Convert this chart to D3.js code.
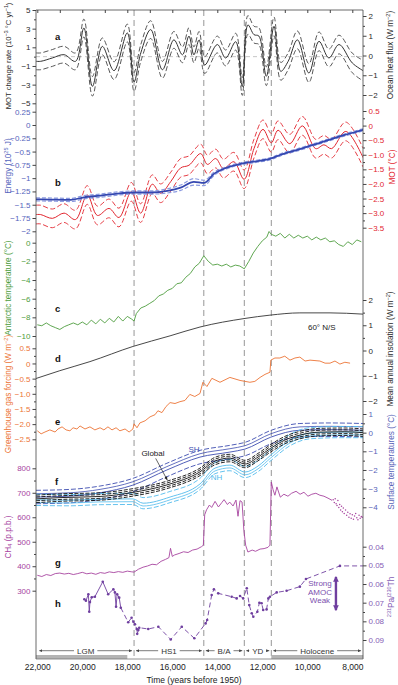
<!DOCTYPE html>
<html>
<head>
<meta charset="utf-8">
<script src="https://cdn.jsdelivr.net/npm/d3@7"></script>
<style>
  body { margin: 0; background: #fff; }
  svg text { font-family: "Liberation Sans", Arial, Helvetica, sans-serif; }
</style>
</head>
<body>
<script>
// all ages in years before 1950

// a: MOT change rate (1e-3 degC/yr) with its uncertainty
var aYears = [22050, 21850, 21330, 20810, 20300, 19930, 19550, 19110, 18590, 18000, 17700, 17400, 16960, 16440, 15930, 15550, 15260, 15040, 14810, 14560, 14000, 13630, 13180, 12890, 12640, 12370, 12150, 11820, 11480, 11180, 10850, 10440, 9930, 9480, 9040, 8590, 8000, 7520];
var aRate = [-0.5, -0.5, -0.14, 0.21, -0.5, 3.07, -3.18, 1.1, -1.5, 2.54, -2.7, 0.4, 2.9, -1.4, 1.8, 0.2, 2.2, 0.2, 1.8, -0.9, 1.3, -0.14, 1.6, -3.2, 3.4, 2.36, 2.2, -2.1, 3.25, -1.57, -0.5, 1.8, -1.75, 1.64, -0.14, 1.3, -0.68, -1.5];
var aErr = [0.9, 0.9, 0.9, 0.9, 0.9, 0.95, 1.05, 0.9, 0.95, 0.95, 1.0, 0.9, 0.95, 0.9, 0.9, 0.85, 0.9, 0.85, 0.9, 0.9, 0.9, 0.85, 0.9, 0.95, 1.0, 0.9, 0.9, 1.0, 1.0, 0.95, 0.9, 0.95, 1.0, 1.0, 0.95, 1.0, 1.05, 1.1];

// b: mean ocean temperature (degC) and ocean energy (1e25 J)
var motYears = [22060, 21850, 21330, 20810, 20300, 19780, 19330, 18810, 18370, 17820, 17410, 16890, 16520, 16070, 15630, 15260, 14740, 14440, 14070, 13730, 13260, 12810, 12370, 11970, 11600, 11300, 10780, 10220, 9630, 9260, 8920, 8290, 7520];
var mot = [-3.05, -3.05, -3.18, -3.0, -3.22, -2.38, -3.08, -2.84, -3.15, -2.27, -3.0, -2.01, -2.32, -1.92, -1.45, -1.36, -0.96, -1.33, -1.13, -1.47, -1.24, -1.84, -0.79, -0.13, -0.59, -0.16, -0.62, -0.01, -0.79, -0.66, -0.79, -0.2, -1.1];
var motErr = 0.32;
var enYears = [22060, 21850, 20520, 19930, 19190, 18440, 17700, 16960, 16220, 15630, 15040, 14590, 14150, 13560, 12960, 12370, 11600, 11190, 10300, 9410, 8520, 7520];
var energy = [-1.40, -1.40, -1.41, -1.36, -1.33, -1.29, -1.27, -1.27, -1.24, -1.18, -1.07, -1.09, -0.92, -0.80, -0.73, -0.69, -0.63, -0.56, -0.45, -0.33, -0.21, -0.09];
var enErr = [0.03, 0.03, 0.03, 0.03, 0.03, 0.03, 0.03, 0.03, 0.04, 0.05, 0.06, 0.05, 0.03, 0.02, 0.02, 0.02, 0.02, 0.02, 0.02, 0.02, 0.02, 0.02];

// c: Antarctic temperature (degC)
var antYears = [22000, 21800, 21600, 21400, 21200, 21000, 20800, 20600, 20400, 20200, 20000, 19800, 19600, 19400, 19200, 19000, 18800, 18600, 18400, 18200, 18000, 17800, 17700, 17600, 17400, 17200, 17000, 16800, 16600, 16400, 16200, 16000, 15800, 15600, 15400, 15200, 15000, 14800, 14600, 14400, 14200, 14000, 13800, 13600, 13400, 13200, 13000, 12800, 12600, 12400, 12200, 12000, 11800, 11700, 11600, 11400, 11200, 11000, 10800, 10600, 10400, 10200, 10000, 9800, 9600, 9400, 9200, 9000, 8800, 8600, 8400, 8200, 8000, 7800, 7600];
var antTemp = [-8.8, -8.9, -8.6, -8.9, -9.1, -9.3, -9.0, -8.8, -8.6, -8.8, -8.5, -8.8, -8.3, -8.7, -8.2, -8.6, -8.1, -8.5, -7.9, -8.4, -7.9, -8.2, -8.4, -7.6, -7.0, -6.8, -6.5, -6.2, -5.7, -5.5, -5.1, -4.9, -4.4, -4.3, -3.7, -3.3, -2.6, -2.2, -1.4, -2.0, -2.4, -2.3, -2.5, -2.3, -2.6, -2.4, -2.5, -2.8, -2.0, -1.1, -0.4, 0.2, 0.6, 1.2, 0.9, 0.7, 1.0, 0.5, 0.9, 0.5, 0.8, 0.5, 0.7, 0.3, 0.6, 0.3, 0.5, 0.1, 0.2, -0.2, -0.4, 0.1, -0.2, 0.3, 0.1];

// d: mean annual insolation 60 N/S (W m-2)
var insYears = [22060, 21000, 19660, 17750, 16100, 14770, 12770, 11660, 10330, 8990, 7520];
var insol = [-1.11, -0.8, -0.44, 0.16, 0.58, 0.93, 1.27, 1.4, 1.49, 1.49, 1.44];

// e: greenhouse gas forcing (W m-2)
var ghgYears = [22000, 21830, 21660, 21440, 21210, 21080, 20900, 20720, 20550, 20410, 20240, 20100, 19880, 19660, 19440, 19210, 19040, 18860, 18680, 18500, 18330, 18100, 17920, 17750, 17700, 17570, 17440, 17210, 16990, 16770, 16640, 16460, 16280, 16100, 15880, 15660, 15440, 15220, 15000, 14770, 14640, 14460, 14240, 13880, 13440, 12990, 12550, 12330, 12100, 11880, 11660, 11620, 11440, 11220, 11000, 10770, 10550, 10330, 10100, 9880, 9440, 9210, 8990, 8770, 8550, 8330, 8100];
var ghg = [-2.22, -2.32, -2.26, -2.19, -2.26, -2.16, -2.09, -2.19, -2.22, -2.12, -2.16, -2.06, -2.16, -2.09, -2.19, -2.12, -2.19, -2.09, -2.19, -2.12, -2.22, -2.16, -2.26, -2.16, -1.99, -2.12, -1.96, -1.89, -1.76, -1.69, -1.56, -1.62, -1.42, -1.29, -1.32, -1.26, -1.22, -1.02, -1.09, -0.99, -0.62, -0.76, -0.49, -0.62, -0.46, -0.56, -0.62, -0.59, -0.46, -0.36, -0.29, 0.11, 0.18, 0.18, 0.24, 0.11, 0.18, 0.21, 0.08, 0.11, 0.08, 0.01, 0.01, 0.08, -0.02, 0.04, 0.01];

// f: surface temperature stacks (degC)
var globYears = [22060, 20990, 19210, 17750, 16240, 14770, 14100, 13440, 12770, 12190, 11620, 11000, 10330, 9440, 8330, 7520];
var globT = [-3.55, -3.48, -3.42, -3.2, -2.8, -2.1, -1.52, -1.36, -1.68, -1.31, -0.83, -0.4, -0.13, 0.03, 0.05, 0.0];
var shYears = [22060, 20540, 19210, 17750, 16240, 14770, 13440, 12770, 11620, 10330, 8990, 7520];
var shT = [-3.45, -3.4, -3.22, -2.81, -2.0, -1.31, -1.04, -0.88, -0.24, 0.13, 0.16, 0.13];
var nhYears = [22060, 20540, 19210, 17750, 17300, 16100, 14770, 14100, 13440, 12770, 12190, 11620, 10770, 9880, 8550, 7520];
var nhT = [-3.6, -3.62, -3.56, -3.55, -3.78, -3.45, -2.75, -1.9, -1.74, -2.11, -1.79, -1.2, -0.4, -0.03, 0.03, 0.03];
var globErr = [0.1, 0.2], shErr = 0.36, nhErr = 0.3;

// g: CH4 (p.p.b.)
var ch4Years = [22000, 21800, 21600, 21400, 21200, 21000, 20800, 20600, 20400, 20200, 20000, 19800, 19600, 19400, 19200, 19000, 18800, 18600, 18400, 18200, 18000, 17800, 17700, 17500, 17300, 17100, 16900, 16700, 16500, 16300, 16150, 16080, 16000, 15900, 15700, 15500, 15300, 15100, 14900, 14700, 14620, 14560, 14480, 14350, 14250, 14100, 13950, 13800, 13700, 13550, 13450, 13300, 13170, 13080, 12990, 12900, 12820, 12740, 12640, 12450, 12300, 12100, 11920, 11750, 11660, 11600, 11520, 11440, 11350, 11200, 11040, 10860, 10700, 10500, 10320, 10150, 9970, 9800, 9620, 9440, 9260, 9080, 8900];
var ch4 = [363, 358, 366, 362, 370, 372, 368, 371, 366, 370, 375, 369, 372, 367, 374, 371, 377, 374, 378, 375, 380, 377, 376, 388, 396, 401, 408, 406, 420, 428, 435, 473, 440, 446, 452, 459, 456, 466, 470, 480, 486, 610, 630, 650, 640, 665, 642, 660, 672, 652, 662, 646, 670, 604, 668, 662, 547, 486, 458, 466, 461, 470, 472, 477, 486, 744, 712, 690, 724, 682, 694, 686, 698, 706, 694, 702, 686, 694, 698, 690, 686, 678, 669];
var ch4DotYears = [8850, 8800, 8760, 8720, 8680, 8640, 8600, 8560, 8520, 8480, 8440, 8400, 8360, 8300, 8250, 8200, 8150, 8100, 8050, 8000, 7950, 7900, 7850, 7800, 7750, 7700, 7650, 7600, 7560];
var ch4Dots = [672, 660, 676, 655, 648, 668, 640, 652, 630, 645, 622, 638, 615, 630, 608, 620, 600, 614, 596, 610, 592, 605, 615, 598, 590, 608, 596, 603, 600];

// h: 231Pa/230Th
var paYears = [19910, 19840, 19730, 19690, 19660, 19580, 19440, 19090, 18850, 18620, 18550, 18500, 18450, 18360, 18290, 17960, 17810, 17730, 17660, 17580, 17560, 17510, 17470, 17070, 16620, 16070, 15580, 15020, 14520, 14450, 14250, 14150, 13960, 13360, 13140, 12990, 12850, 12690, 12580, 12470, 12400, 12220, 12130, 12030, 11960, 11810, 11730, 11660, 11360, 10920, 10330, 10060, 8550, 7520];
var paTh = [0.0682, 0.0690, 0.0655, 0.0749, 0.0697, 0.0671, 0.0668, 0.0588, 0.0655, 0.0628, 0.0645, 0.0722, 0.0655, 0.0673, 0.0727, 0.0805, 0.0781, 0.0802, 0.0816, 0.0841, 0.0867, 0.0847, 0.0834, 0.0841, 0.0829, 0.0897, 0.0829, 0.0891, 0.0811, 0.0793, 0.0659, 0.0628, 0.0650, 0.0668, 0.0677, 0.0664, 0.0677, 0.0623, 0.0713, 0.0757, 0.0775, 0.0749, 0.0700, 0.0703, 0.0739, 0.0736, 0.0677, 0.0668, 0.0645, 0.0636, 0.0614, 0.0573, 0.0503, 0.0503];

// event boundaries and period names
var eventYears = [17700, 14600, 12800, 11600];
var periodNames = ['LGM', 'HS1', 'B/A', 'YD', 'Holocene'];
var periodFrom = [22000, 17700, 14600, 12800, 11600];
var periodTo = [17700, 14600, 12800, 11600, 7520];
var barFrom = [22060, 11600], barTo = [18000, 7520];
var timeTicks = [22000, 20000, 18000, 16000, 14000, 12000, 10000, 8000];

var W = 398, H = 685;
var L = 36, R = 363, T = 10, B = 659;

var svg = d3.select('body').append('svg').attr('width', W).attr('height', H);

var defs = svg.append('defs');
defs.append('clipPath').attr('id', 'plot')
  .append('rect').attr('x', L).attr('y', T).attr('width', R - L).attr('height', B - T);
defs.append('marker').attr('id', 'arr')
  .attr('viewBox', '0 0 6 6').attr('refX', 6).attr('refY', 3)
  .attr('markerWidth', 4.5).attr('markerHeight', 4.5).attr('orient', 'auto-start-reverse')
  .append('path').attr('d', 'M0,0L6,3L0,6z').attr('fill', '#444');
defs.append('marker').attr('id', 'arrP')
  .attr('viewBox', '0 0 6 6').attr('refX', 5).attr('refY', 3)
  .attr('markerWidth', 2.4).attr('markerHeight', 2.4).attr('orient', 'auto-start-reverse')
  .append('path').attr('d', 'M0,0L6,3L0,6z').attr('fill', '#6f3f9f');
defs.append('marker').attr('id', 'arrK')
  .attr('viewBox', '0 0 6 6').attr('refX', 6).attr('refY', 3)
  .attr('markerWidth', 5).attr('markerHeight', 5).attr('orient', 'auto')
  .append('path').attr('d', 'M0,0L6,3L0,6z').attr('fill', '#222');

// scales
var x = d3.scaleLinear().domain([22000, 8000]).range([37.3, 352.3]);
var yA = d3.scaleLinear().domain([5, -5]).range([10, 103.3]);
var yFlux = d3.scaleLinear().domain([2, -2]).range([16, 95]);
var yEn = d3.scaleLinear().domain([0.25, -2]).range([111.7, 231.3]);
var yMot = d3.scaleLinear().domain([0.5, -3.5]).range([111, 227.7]);
var yAnt = d3.scaleLinear().domain([0, -10]).range([242.7, 336]);
var yIns = d3.scaleLinear().domain([2, -2]).range([300, 401]);
var yGhg = d3.scaleLinear().domain([0.5, -2.5]).range([348.3, 439.3]);
var ySurf = d3.scaleLinear().domain([1, -4]).range([414, 507.3]);
var yCh4 = d3.scaleLinear().domain([800, 300]).range([468.3, 590.7]);
var yPa = d3.scaleLinear().domain([0.04, 0.09]).range([546.7, 640]);

var cBlack = '#2a2a2a', cBlue = '#5565bd', cRed = '#e2262f', cGreen = '#4e9d3e',
    cOrange = '#ec7436', cSurf = '#5864b8', cSH = '#3d4db0', cNH = '#52bbec',
    cCh4 = '#a7449f', cPa = '#6f3f9f';

// event lines
svg.append('g').selectAll('line').data(eventYears).enter().append('line')
  .attr('x1', d => x(d)).attr('x2', d => x(d))
  .attr('y1', T).attr('y2', B - 2)
  .attr('stroke', '#8a8a8a').attr('stroke-width', 0.9).attr('stroke-dasharray', '6,4');

// gray period bars on the time axis
svg.append('g').selectAll('rect').data(barFrom).enter().append('rect')
  .attr('x', d => x(d)).attr('width', (d, i) => x(barTo[i]) - x(d))
  .attr('y', B - 4).attr('height', 4).attr('fill', '#b4b4b4');

var plot = svg.append('g').attr('clip-path', 'url(#plot)');

function shift(vals, err, sign) {
  return vals.map(function (v, i) { return v + sign * (Array.isArray(err) ? err[i] : err); });
}

function trace(years, vals, y, color, opt) {
  opt = opt || {};
  var line = d3.line()
    .x(function (d, i) { return x(years[i]); })
    .y(function (d) { return y(d); })
    .curve(opt.curve || d3.curveLinear);
  plot.append('path').datum(vals)
    .attr('d', line)
    .attr('fill', 'none')
    .attr('stroke', color)
    .attr('stroke-width', opt.width || 1)
    .attr('stroke-dasharray', opt.dash || null)
    .attr('stroke-linejoin', 'round');
}

// a
plot.append('line').attr('x1', L).attr('x2', R).attr('y1', yA(0)).attr('y2', yA(0))
  .attr('stroke', '#b8b8b8').attr('stroke-dasharray', '4,3').attr('stroke-width', 0.8);
var smooth = d3.curveCatmullRom;
trace(aYears, shift(aRate, aErr, 1), yA, '#444', { curve: smooth, dash: '5,2.5', width: 0.9 });
trace(aYears, shift(aRate, aErr, -1), yA, '#444', { curve: smooth, dash: '5,2.5', width: 0.9 });
trace(aYears, aRate, yA, '#333', { curve: smooth, width: 1 });

// b
trace(motYears, shift(mot, motErr, 1), yMot, cRed, { curve: smooth, dash: '5,2.5', width: 0.9 });
trace(motYears, shift(mot, motErr, -1), yMot, cRed, { curve: smooth, dash: '5,2.5', width: 0.9 });
trace(motYears, mot, yMot, cRed, { curve: smooth, width: 1 });
trace(enYears, shift(energy, enErr, 1), yEn, '#8c9be0', { curve: d3.curveMonotoneX, dash: '4,2', width: 1.2 });
trace(enYears, shift(energy, enErr, -1), yEn, '#8c9be0', { curve: d3.curveMonotoneX, dash: '4,2', width: 1.2 });
trace(enYears, energy, yEn, '#3447b0', { curve: d3.curveMonotoneX, width: 1.8 });

// c, d, e
trace(antYears, antTemp, yAnt, cGreen, { width: 0.9 });
trace(insYears, insol, yIns, '#333', { curve: d3.curveMonotoneX, width: 0.9 });
trace(ghgYears, ghg, yGhg, cOrange, { width: 0.9 });

// f
var mono = d3.curveMonotoneX;
trace(shYears, shift(shT, shErr, 1), ySurf, cSH, { curve: mono, dash: '5,2', width: 0.9 });
trace(shYears, shift(shT, shErr, -1), ySurf, cSH, { curve: mono, dash: '5,2', width: 0.9 });
trace(shYears, shift(shT, shErr / 2, 1), ySurf, cSH, { curve: mono, width: 0.8 });
trace(shYears, shT, ySurf, cSH, { curve: mono, width: 0.9 });
trace(nhYears, shift(nhT, nhErr, 1), ySurf, cNH, { curve: mono, dash: '5,2', width: 0.9 });
trace(nhYears, shift(nhT, nhErr, -1), ySurf, cNH, { curve: mono, dash: '5,2', width: 0.9 });
trace(nhYears, shift(nhT, nhErr / 2, -1), ySurf, cNH, { curve: mono, width: 0.8 });
trace(nhYears, nhT, ySurf, cNH, { curve: mono, width: 0.9 });
globErr.forEach(function (e) {
  trace(globYears, shift(globT, e, 1), ySurf, '#111', { curve: mono, dash: '4,1.5', width: 0.9 });
  trace(globYears, shift(globT, e, -1), ySurf, '#111', { curve: mono, dash: '4,1.5', width: 0.9 });
});
trace(globYears, globT, ySurf, '#111', { curve: mono, width: 0.9 });

// g
trace(ch4Years, ch4, yCh4, cCh4, { width: 0.9 });
plot.append('g').selectAll('circle').data(ch4Dots).enter().append('circle')
  .attr('cx', (d, i) => x(ch4DotYears[i])).attr('cy', d => yCh4(d))
  .attr('r', 0.75).attr('fill', cCh4);

// h
trace(paYears.slice(0, 15), paTh.slice(0, 15), yPa, cPa, { width: 0.9 });
trace(paYears.slice(14), paTh.slice(14), yPa, cPa, { width: 0.9, dash: '5,3' });
plot.append('g').selectAll('circle').data(paTh.slice(0, -1)).enter().append('circle')
  .attr('cx', (d, i) => x(paYears[i])).attr('cy', d => yPa(d))
  .attr('r', 1.3).attr('fill', cPa);

// frame
var frame = svg.append('g').attr('stroke', '#444').attr('stroke-width', 0.8).attr('fill', 'none');
frame.append('line').attr('x1', L).attr('x2', L).attr('y1', T).attr('y2', B);
frame.append('line').attr('x1', R).attr('x2', R).attr('y1', T).attr('y2', B);
frame.append('line').attr('x1', L).attr('x2', R).attr('y1', T).attr('y2', T);
frame.append('line').attr('x1', L).attr('x2', R).attr('y1', B).attr('y2', B).attr('stroke', '#777');

// time axes
var topAx = svg.append('g').attr('transform', 'translate(0,' + T + ')')
  .call(d3.axisBottom(x).tickValues(d3.range(8000, 22001, 1000)).tickSize(3).tickFormat(''));
topAx.select('.domain').remove();
topAx.selectAll('line').attr('stroke', '#444');

var botAx = svg.append('g').attr('transform', 'translate(0,' + B + ')')
  .call(d3.axisBottom(x).tickValues(timeTicks).tickSize(0).tickPadding(5).tickFormat(d3.format(',')));
botAx.select('.domain').remove();
botAx.attr('font-size', 8.5).attr('font-family', null);
botAx.selectAll('text').attr('fill', '#222');

svg.append('text').attr('x', 194).attr('y', 683).attr('text-anchor', 'middle')
  .attr('font-size', 8.5).attr('fill', '#222').text('Time (years before 1950)');

// y axes
function yAxis(scale, side, major, minor, fmt, color) {
  var pos = side === 'left' ? L : R;
  var make = side === 'left' ? d3.axisLeft : d3.axisRight;
  if (minor) {
    var m = svg.append('g').attr('transform', 'translate(' + pos + ',0)')
      .call(make(scale).tickValues(minor).tickSize(2).tickFormat(''));
    m.select('.domain').remove();
    m.selectAll('line').attr('stroke', '#444');
  }
  var g = svg.append('g').attr('transform', 'translate(' + pos + ',0)')
    .call(make(scale).tickValues(major).tickSize(3.5).tickPadding(2).tickFormat(fmt));
  g.attr('font-size', 8).attr('font-family', null);
  g.select('.domain').remove();
  g.selectAll('line').attr('stroke', '#444');
  g.selectAll('text').attr('fill', color);
}

var fInt = d3.format('d');
var fGen = function (d) { return d === 0 ? '0' : d3.format('~g')(d); };
var fOne = function (d) { return d === 0 ? '0' : d3.format('.1f')(d); };

yAxis(yA, 'left', [5, 3, 1, -1, -3, -5], [4, 2, 0, -2, -4], fInt, cBlack);
yAxis(yFlux, 'right', [2, 1, 0, -1, -2], [1.5, 0.5, -0.5, -1.5], fInt, cBlack);
yAxis(yEn, 'left', [0.25, 0, -0.25, -0.5, -0.75, -1, -1.25, -1.5, -1.75, -2], null, fGen, cBlue);
yAxis(yMot, 'right', [0.5, 0, -0.5, -1, -1.5, -2, -2.5, -3, -3.5], [0.25, -0.25, -0.75, -1.25, -1.75, -2.25, -2.75, -3.25], fOne, cRed);
yAxis(yAnt, 'left', [0, -2, -4, -6, -8, -10], [-1, -3, -5, -7, -9], fInt, cGreen);
yAxis(yIns, 'right', [2, 1, 0, -1, -2], [1.5, 0.5, -0.5, -1.5], fInt, cBlack);
yAxis(yGhg, 'left', [0.5, 0, -0.5, -1, -1.5, -2, -2.5], [0.25, -0.25, -0.75, -1.25, -1.75, -2.25], fOne, cOrange);
yAxis(ySurf, 'right', [1, 0, -1, -2, -3, -4], [0.5, -0.5, -1.5, -2.5, -3.5], fInt, cSurf);
yAxis(yCh4, 'left', [800, 700, 600, 500, 400, 300], [750, 650, 550, 450, 350], fInt, cCh4);
yAxis(yPa, 'right', [0.04, 0.05, 0.06, 0.07, 0.08, 0.09], [0.045, 0.055, 0.065, 0.075, 0.085], d3.format('.2f'), '#8660b6');

// axis titles
function title(parts, px, py, color, size) {
  size = size || 8.2;
  var t = svg.append('text')
    .attr('transform', 'translate(' + px + ',' + py + ') rotate(-90)')
    .attr('text-anchor', 'middle').attr('font-size', size).attr('fill', color);
  var cur = 0;
  parts.forEach(function (p) {
    var target = p[1] === 'sup' ? -3 : (p[1] === 'sub' ? 1.6 : 0);
    var s = t.append('tspan').attr('dy', target - cur).text(p[0]);
    if (p[1]) s.attr('font-size', size * 0.68);
    cur = target;
  });
}

title([['MOT change rate (10'], ['\u22123', 'sup'], [' \u00b0C yr'], ['\u22121', 'sup'], [')']], 10.5, 56, cBlack, 7.7);
title([['Energy (10'], ['25', 'sup'], [' J)']], 10.5, 166, cBlue);
title([['Antarctic temperature (\u00b0C)']], 10.5, 288, cGreen);
title([['Greenhouse gas forcing (W m'], ['\u22122', 'sup'], [')']], 10.5, 394, cOrange);
title([['CH'], ['4', 'sub'], [' (p.p.b.)']], 10.5, 537, cCh4);
title([['Ocean heat flux (W m'], ['\u22122', 'sup'], [')']], 393, 55, cBlack);
title([['MOT (\u00b0C)']], 395, 167, cRed);
title([['Mean annual insolation (W m'], ['\u22122', 'sup'], [')']], 393, 349, cBlack);
title([['Surface temperatures (\u00b0C)']], 394, 462, cSurf);
title([['231', 'sup'], ['Pa/'], ['230', 'sup'], ['Th']], 394, 597, '#8660b6');

// panel letters
var letters = ['a', 'b', 'c', 'd', 'e', 'f', 'g', 'h'];
var letterY = [40, 186, 312, 361.7, 425, 485, 566, 606.7];
svg.append('g').selectAll('text').data(letters).enter().append('text')
  .attr('x', 55).attr('y', (d, i) => letterY[i])
  .attr('font-size', 9.5).attr('font-weight', 'bold').attr('fill', '#111')
  .text(d => d);

// annotations
svg.append('text').attr('x', x(9970)).attr('y', yIns(0.8))
  .attr('font-size', 8).attr('fill', '#222').text('60\u00b0 N/S');

svg.append('text').attr('x', x(16860)).attr('y', ySurf(-1.25)).attr('text-anchor', 'middle')
  .attr('font-size', 8).attr('fill', '#222').text('Global');
svg.append('line')
  .attr('x1', x(16738)).attr('y1', ySurf(-1.38)).attr('x2', x(16223)).attr('y2', ySurf(-2.54))
  .attr('stroke', '#222').attr('stroke-width', 0.7).attr('marker-end', 'url(#arrK)');
svg.append('text').attr('x', x(15036)).attr('y', ySurf(-1.02)).attr('text-anchor', 'middle')
  .attr('font-size', 8).attr('fill', cSH).text('SH');
svg.append('text').attr('x', x(14036)).attr('y', ySurf(-2.55)).attr('text-anchor', 'middle')
  .attr('font-size', 8).attr('fill', cNH).text('NH');

var amoc = svg.append('text').attr('text-anchor', 'middle').attr('font-size', 8).attr('fill', '#7b4fae');
['Strong', 'AMOC', 'Weak'].forEach(function (s, i) {
  amoc.append('tspan').attr('x', x(9437)).attr('y', yPa([0.0611, 0.0659, 0.0702][i])).text(s);
});
svg.append('line')
  .attr('x1', x(8727)).attr('x2', x(8727)).attr('y1', yPa(0.0562)).attr('y2', yPa(0.0740))
  .attr('stroke', '#6f3f9f').attr('stroke-width', 2.4)
  .attr('marker-start', 'url(#arrP)').attr('marker-end', 'url(#arrP)');

// period labels with double arrows
periodNames.forEach(function (name, i) {
  var x0 = x(periodFrom[i]) + 2, x1 = x(periodTo[i]) - 2, xm = (x0 + x1) / 2;
  var t = svg.append('text').attr('x', xm).attr('y', 653.5).attr('text-anchor', 'middle')
    .attr('font-size', 8).attr('fill', '#333').text(name);
  var half = t.node().getComputedTextLength() / 2 + 3;
  [[xm - half, x0], [xm + half, x1]].forEach(function (seg) {
    svg.append('line').attr('x1', seg[0]).attr('x2', seg[1]).attr('y1', 650.7).attr('y2', 650.7)
      .attr('stroke', '#444').attr('stroke-width', 0.7).attr('marker-end', 'url(#arr)');
  });
});
</script>
</body>
</html>
